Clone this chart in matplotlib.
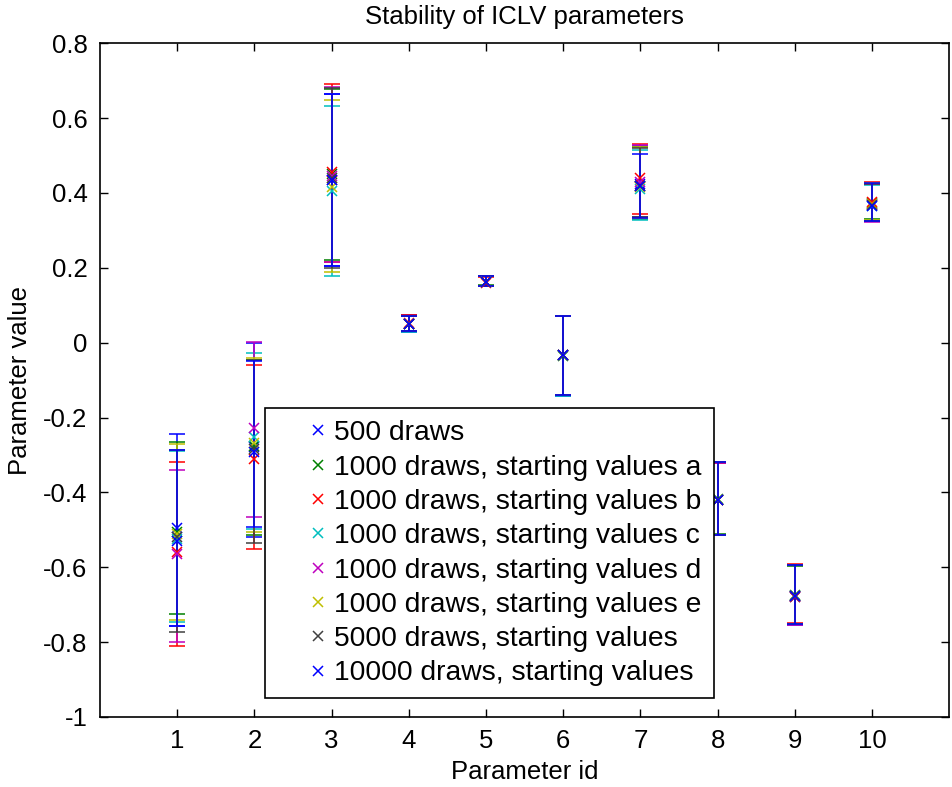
import numpy as np
import matplotlib
matplotlib.use("Agg")
import matplotlib.pyplot as plt
from matplotlib.lines import Line2D

plt.rcParams['font.family'] = ['Liberation Sans', 'DejaVu Sans']
plt.rcParams['axes.unicode_minus'] = False

param_id = [1, 2, 3, 4, 5, 6, 7, 8, 9, 10]

labels = ["500 draws",
          "1000 draws, starting values a",
          "1000 draws, starting values b",
          "1000 draws, starting values c",
          "1000 draws, starting values d",
          "1000 draws, starting values e",
          "5000 draws, starting values",
          "10000 draws, starting values"]

colors = [(0, 0, 1), (0, 0.5, 0), (1, 0, 0), (0, 0.75, 0.75),
          (0.75, 0, 0.75), (0.75, 0.75, 0), (0.25, 0.25, 0.25), (0, 0, 1)]

# estimates
mean_500 = [-0.495, -0.280, 0.435, 0.051, 0.162, -0.033, 0.425, -0.420, -0.679, 0.370]
mean_a = [-0.505, -0.275, 0.450, 0.050, 0.163, -0.035, 0.420, -0.418, -0.675, 0.372]
mean_b = [-0.560, -0.312, 0.455, 0.052, 0.160, -0.034, 0.440, -0.420, -0.680, 0.375]
mean_c = [-0.525, -0.251, 0.405, 0.049, 0.161, -0.032, 0.410, -0.419, -0.677, 0.366]
mean_d = [-0.565, -0.229, 0.445, 0.050, 0.162, -0.033, 0.430, -0.420, -0.678, 0.368]
mean_e = [-0.510, -0.268, 0.415, 0.050, 0.161, -0.033, 0.415, -0.419, -0.676, 0.370]
mean_5000 = [-0.520, -0.285, 0.440, 0.051, 0.162, -0.033, 0.420, -0.420, -0.678, 0.368]
mean_10000 = [-0.530, -0.292, 0.435, 0.051, 0.162, -0.033, 0.420, -0.420, -0.678, 0.366]

# upper ends of the bars
hi_500 = [-0.244, -0.001, 0.665, 0.073, 0.178, 0.072, 0.525, -0.320, -0.594, 0.425]
hi_a = [-0.265, -0.045, 0.678, 0.071, 0.177, 0.070, 0.522, -0.322, -0.596, 0.428]
hi_b = [-0.318, -0.059, 0.690, 0.073, 0.176, 0.071, 0.532, -0.321, -0.592, 0.430]
hi_c = [-0.290, -0.027, 0.632, 0.072, 0.178, 0.072, 0.515, -0.320, -0.595, 0.422]
hi_d = [-0.340, 0.002, 0.683, 0.072, 0.177, 0.071, 0.527, -0.321, -0.594, 0.424]
hi_e = [-0.270, -0.041, 0.649, 0.072, 0.178, 0.071, 0.524, -0.319, -0.593, 0.427]
hi_5000 = [-0.286, -0.045, 0.681, 0.072, 0.177, 0.071, 0.520, -0.320, -0.594, 0.425]
hi_10000 = [-0.286, -0.049, 0.665, 0.072, 0.177, 0.072, 0.505, -0.320, -0.594, 0.426]

# lower ends of the bars
lo_500 = [-0.756, -0.519, 0.204, 0.029, 0.151, -0.142, 0.335, -0.514, -0.753, 0.325]
lo_a = [-0.724, -0.513, 0.220, 0.030, 0.153, -0.140, 0.330, -0.512, -0.751, 0.330]
lo_b = [-0.810, -0.550, 0.215, 0.031, 0.152, -0.141, 0.343, -0.515, -0.749, 0.324]
lo_c = [-0.746, -0.497, 0.178, 0.029, 0.151, -0.142, 0.328, -0.513, -0.752, 0.326]
lo_d = [-0.799, -0.466, 0.215, 0.030, 0.152, -0.141, 0.333, -0.514, -0.754, 0.322]
lo_e = [-0.740, -0.505, 0.188, 0.030, 0.152, -0.141, 0.332, -0.513, -0.752, 0.328]
lo_5000 = [-0.772, -0.535, 0.199, 0.030, 0.152, -0.141, 0.335, -0.514, -0.752, 0.325]
lo_10000 = [-0.756, -0.493, 0.204, 0.030, 0.152, -0.141, 0.334, -0.514, -0.752, 0.326]

means = [mean_500, mean_a, mean_b, mean_c, mean_d, mean_e, mean_5000, mean_10000]
his = [hi_500, hi_a, hi_b, hi_c, hi_d, hi_e, hi_5000, hi_10000]
los = [lo_500, lo_a, lo_b, lo_c, lo_d, lo_e, lo_5000, lo_10000]

yticks = [-1, -0.8, -0.6, -0.4, -0.2, 0, 0.2, 0.4, 0.6, 0.8]
ytick_labels = ['-1', '-0.8', '-0.6', '-0.4', '-0.2', '0', '0.2', '0.4', '0.6', '0.8']

FS = 18.5

fig = plt.figure(figsize=(9.53, 7.87), dpi=100)
ax = fig.add_axes([0.105, 0.089, 0.891, 0.856])

for m, h, l, c in zip(means, his, los, colors):
    m = np.array(m); h = np.array(h); l = np.array(l)
    ax.errorbar(param_id, m, yerr=[m - l, h - m], fmt='x', color=c,
                ecolor=c, elinewidth=1.1, capsize=5.8, capthick=1.1,
                markersize=7, markeredgewidth=1.1)

ax.set_xlim(0, 11)
ax.set_ylim(-1, 0.8)
ax.set_xticks(param_id)
ax.set_xticklabels([str(p) for p in param_id])
ax.set_yticks(yticks)
ax.set_yticklabels(ytick_labels)
ax.tick_params(direction='in', top=True, right=True, length=6, width=1,
               labelsize=FS, pad=9)
for s in ax.spines.values():
    s.set_linewidth(1.2)

ax.set_title("Stability of ICLV parameters", fontsize=FS, pad=14)
ax.set_xlabel("Parameter id", fontsize=FS, labelpad=5)
ax.set_ylabel("Parameter value", fontsize=FS, labelpad=8)

handles = [Line2D([], [], linestyle='none', marker='x', color=c,
                  markersize=7, markeredgewidth=1.1) for c in colors]
leg = ax.legend(handles, labels, loc='upper left',
                bbox_to_anchor=(0.194, 0.458), borderaxespad=0,
                fontsize=20.3, frameon=True, fancybox=False, framealpha=1,
                edgecolor='black', handlelength=2.9, handletextpad=-0.85,
                labelspacing=0.295, borderpad=0.42)
leg.get_frame().set_linewidth(1.2)

fig.savefig("out.png", dpi=100)
